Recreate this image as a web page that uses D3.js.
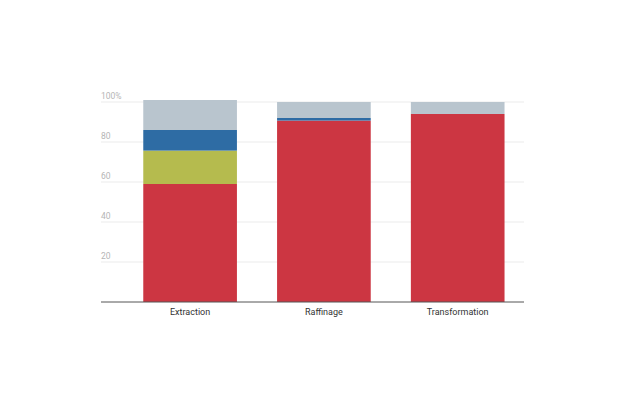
<!DOCTYPE html>
<html>
<head>
<meta charset="utf-8">
<script src="https://cdn.jsdelivr.net/npm/d3@7"></script>
<style>
  body { margin: 0; background: #fff; }
  text { font-family: Roboto, "Noto Sans", sans-serif; }
</style>
</head>
<body>
<svg id="chart"></svg>
<script>
// The data
var categories = ["Extraction", "Raffinage", "Transformation"];
var seriesNames = ["s1", "s2", "s3", "s4"];
var s1 = [59, 90.7, 94];
var s2 = [16.7, 0, 0];
var s3 = [10.3, 1.3, 0];
var s4 = [15, 8, 6];
var tickValues = [20, 40, 60, 80, 100];
var tickLabels = ["20", "40", "60", "80", "100%"];

var colors = ["#cc3642", "#b5bb4e", "#2e6ca4", "#b9c5ce"];

var width = 624,
    height = 416;

var svg = d3.select('svg#chart')
  .attr('width', width)
  .attr('height', height);

// Build rows for the stack
var rows = categories.map(function(c, i){
  return {cat: c, s1: s1[i], s2: s2[i], s3: s3[i], s4: s4[i]};
});
var stacked = d3.stack().keys(seriesNames)(rows);

var x = d3.scaleBand()
  .domain(categories)
  .range([123.2, 524.6])
  .paddingInner(0.3)
  .paddingOuter(0.15);

var y = d3.scaleLinear()
  .domain([0, 100])
  .range([302, 102]);

// Gridlines
svg.append('g')
  .selectAll('line')
  .data(tickValues)
  .enter().append('line')
    .attr('x1', 101)
    .attr('x2', 524)
    .attr('y1', function(d){ return y(d); })
    .attr('y2', function(d){ return y(d); })
    .attr('stroke', '#ebebeb')
    .attr('stroke-width', 1);

// Tick labels
svg.append('g')
  .selectAll('text')
  .data(tickValues)
  .enter().append('text')
    .attr('x', 101)
    .attr('y', function(d){ return y(d) - 3.5; })
    .attr('font-size', '8.5px')
    .attr('fill', '#b5b5b5')
    .text(function(d, i){ return tickLabels[i]; });

// Bars
var layers = svg.append('g')
  .selectAll('g')
  .data(stacked)
  .enter().append('g')
    .attr('fill', function(d, i){ return colors[i]; });

layers.selectAll('rect')
  .data(function(d){ return d; })
  .enter().append('rect')
    .attr('x', function(d){ return x(d.data.cat); })
    .attr('width', x.bandwidth())
    .attr('y', function(d){ return y(d[1]); })
    .attr('height', function(d){ return y(d[0]) - y(d[1]); });

// Baseline
svg.append('line')
  .attr('x1', 101)
  .attr('x2', 524)
  .attr('y1', 302)
  .attr('y2', 302)
  .attr('stroke', '#555')
  .attr('stroke-width', 1);

// Category labels
svg.append('g')
  .selectAll('text')
  .data(categories)
  .enter().append('text')
    .attr('x', function(d){ return x(d) + x.bandwidth() / 2; })
    .attr('y', 314.5)
    .attr('text-anchor', 'middle')
    .attr('font-size', '9px')
    .attr('fill', '#333')
    .text(function(d){ return d; });
</script>
</body>
</html>
